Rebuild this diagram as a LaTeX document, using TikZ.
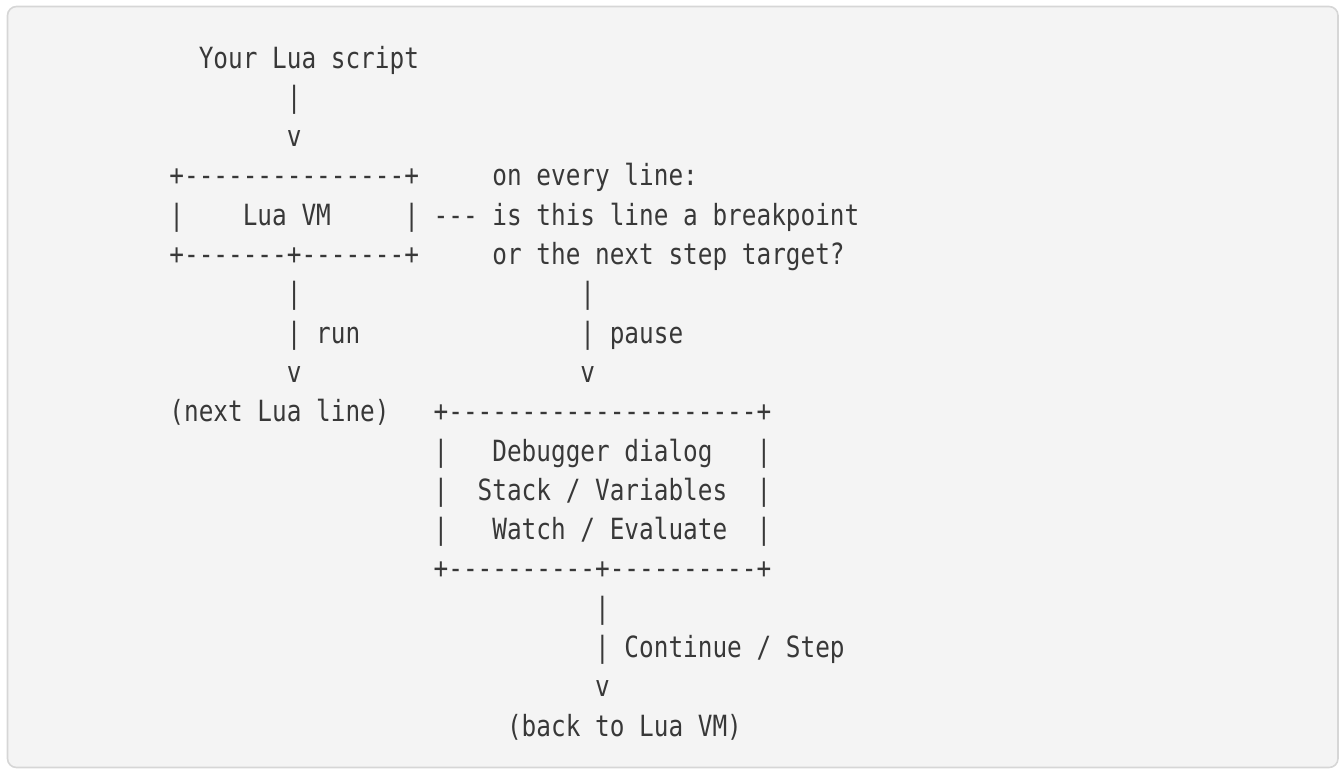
\documentclass[tikz,border=0pt]{standalone}
\usepackage{fontspec}
\setmonofont{DejaVu Sans Mono}[FakeStretch=0.835]
\definecolor{ink}{RGB}{56,56,56}
\definecolor{codebg}{RGB}{244,244,244}
\definecolor{codeframe}{RGB}{214,214,214}
\tikzset{
  ascii/.style = {anchor=base west, inner sep=0pt, outer sep=0pt, text=ink,
                  font=\ttfamily\fontsize{29.2}{35}\selectfont},
  frame/.style = {draw=codeframe, fill=codebg, line width=1.6pt, rounded corners=9pt}
}
\begin{document}
\begin{tikzpicture}[x=1pt,y=-1pt]
                \useasboundingbox (0,0) rectangle (1340,769);
                \draw[frame] (7.5,6.5) rectangle (1338,767.5);
                \begin{scope}[shift={(169.4,68)}, x=14.68pt, y=-39.3pt]
                % script into the VM
                \node[ascii] (script) at (2,0) {Your Lua script};
                \node[ascii] (s1) at (8,1) {|};
                \node[ascii] (s2) at (8,2) {v};
                % Lua VM box and the line hook
                \node[ascii] (vmtop) at (0,3) {+---------------+};
                \node[ascii] (note1) at (22,3) {on every line:};
                \node[ascii] (vmleft) at (0,4) {|};
                \node[ascii] (vm) at (5,4) {Lua VM};
                \node[ascii] (vmright) at (16,4) {|};
                \node[ascii] (hook) at (18,4) {---};
                \node[ascii] (note2) at (22,4) {is this line a breakpoint};
                \node[ascii] (vmbot) at (0,5) {+-------+-------+};
                \node[ascii] (note3) at (22,5) {or the next step target?};
                % run / pause
                \node[ascii] (run1) at (8,6) {|};
                \node[ascii] (pause1) at (28,6) {|};
                \node[ascii] (run2) at (8,7) {| run};
                \node[ascii] (pause2) at (28,7) {| pause};
                \node[ascii] (run3) at (8,8) {v};
                \node[ascii] (pause3) at (28,8) {v};
                \node[ascii] (next) at (0,9) {(next Lua line)};
                % debugger dialog box
                \node[ascii] (dbgtop) at (18,9) {+---------------------+};
                \node[ascii] (dbgl1) at (18,10) {|};
                \node[ascii] (dbg) at (22,10) {Debugger dialog};
                \node[ascii] (dbgr1) at (40,10) {|};
                \node[ascii] (dbgl2) at (18,11) {|};
                \node[ascii] (stack) at (21,11) {Stack / Variables};
                \node[ascii] (dbgr2) at (40,11) {|};
                \node[ascii] (dbgl3) at (18,12) {|};
                \node[ascii] (watch) at (22,12) {Watch / Evaluate};
                \node[ascii] (dbgr3) at (40,12) {|};
                \node[ascii] (dbgbot) at (18,13) {+----------+----------+};
                % back to the VM
                \node[ascii] (cont1) at (29,14) {|};
                \node[ascii] (cont2) at (29,15) {| Continue / Step};
                \node[ascii] (cont3) at (29,16) {v};
                \node[ascii] (back) at (23,17) {(back to Lua VM)};
                \end{scope}
            \end{tikzpicture}
\end{document}
